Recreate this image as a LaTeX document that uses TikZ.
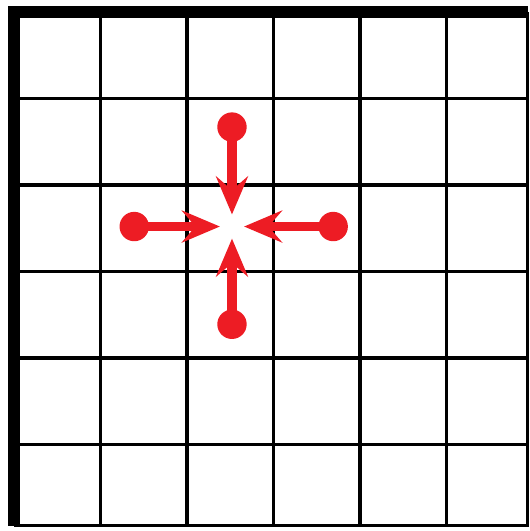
\documentclass[tikz,border=0pt]{standalone}
\usetikzlibrary{arrows.meta}
\definecolor{arrowred}{RGB}{237,28,36}
\tikzset{
  dot/.style={circle, fill=arrowred, inner sep=0pt, minimum size=0.34cm},
  push/.style={arrowred, line width=3.2pt,
    -{Stealth[length=12.5pt, width=10.5pt, inset=4.5pt]}}
}
\begin{document}
\begin{tikzpicture}
            % 1. Fix the frame of the picture
            \useasboundingbox (-0.162,0) rectangle (5.965,6.139);

            % 2. Draw the grid (cut off on the right and at the bottom)
            \begin{scope}[line width=1pt]
              \foreach \i in {1,...,5} {
                \draw (\i,0.06) -- (\i,6);
                \draw (0,6-\i) -- (5.94,6-\i);
              }
              \draw (0,0.06) -- (5.94,0.06) -- (5.94,6);
            \end{scope}

            % 3. Thick border on the left and at the top
            \draw[line width=4pt] (0,0.06) -- (0,6) -- (5.94,6);

            % 4. Centre and the four tips
            \coordinate (O) at (2.52,3.52);
            \path (O) ++(0,0.14) coordinate (tN)
                  (O) ++(0,-0.14) coordinate (tS)
                  (O) ++(-0.14,0) coordinate (tW)
                  (O) ++(0.14,0) coordinate (tE);

            % 5. The dots
            \node[dot] (dN) at (2.52,4.67) {};
            \node[dot] (dS) at (2.52,2.39) {};
            \node[dot] (dW) at (1.39,3.52) {};
            \node[dot] (dE) at (3.69,3.52) {};

            % 6. Arrows towards the centre
            \draw[push] (dN.center) -- (tN);
            \draw[push] (dS.center) -- (tS);
            \draw[push] (dW.center) -- (tW);
            \draw[push] (dE.center) -- (tE);
          \end{tikzpicture}
\end{document}
